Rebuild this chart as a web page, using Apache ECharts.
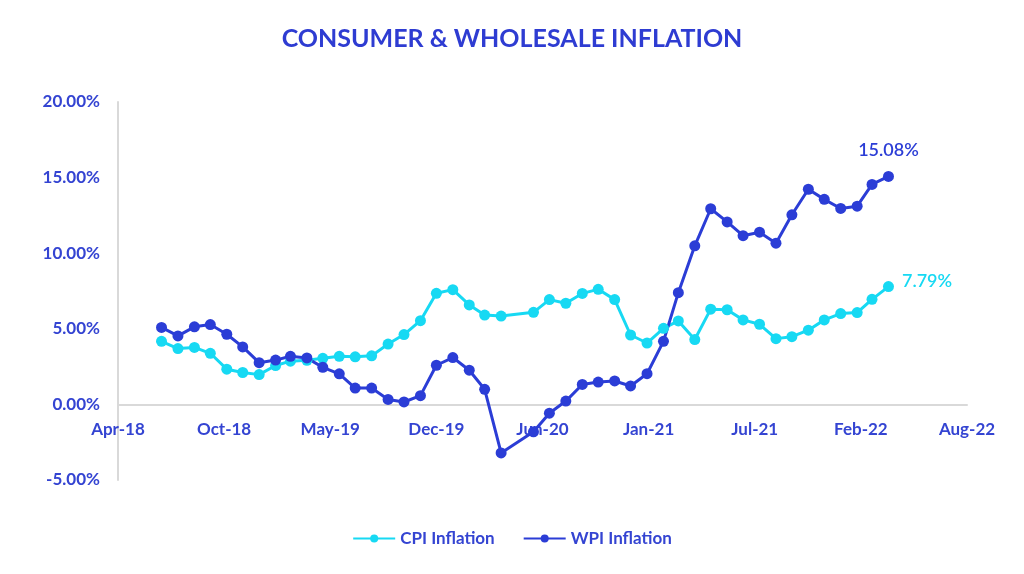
<!DOCTYPE html>
<html>
<head>
<meta charset="utf-8">
<script src="https://cdn.jsdelivr.net/npm/echarts@6/dist/echarts.min.js"></script>
<style>html,body{margin:0;padding:0;background:#fff}#c{width:1024px;height:574px}</style>
</head>
<body>
<div id="c"></div>
<script>
const months = ['2018-07','2018-08','2018-09','2018-10','2018-11','2018-12',
  '2019-01','2019-02','2019-03','2019-04','2019-05','2019-06','2019-07','2019-08','2019-09','2019-10','2019-11','2019-12',
  '2020-01','2020-02','2020-03','2020-04','2020-06','2020-07','2020-08','2020-09','2020-10','2020-11','2020-12',
  '2021-01','2021-02','2021-03','2021-04','2021-05','2021-06','2021-07','2021-08','2021-09','2021-10','2021-11','2021-12',
  '2022-01','2022-02','2022-03','2022-04'];
const cpi = [4.17,3.69,3.77,3.38,2.33,2.11,
  1.97,2.57,2.86,2.92,3.05,3.18,3.15,3.21,3.99,4.62,5.54,7.35,
  7.59,6.58,5.91,5.84,6.09,6.93,6.69,7.34,7.61,6.93,4.59,
  4.06,5.03,5.52,4.29,6.30,6.26,5.59,5.30,4.35,4.48,4.91,5.59,
  6.01,6.07,6.95,7.79];
const wpi = [5.09,4.53,5.13,5.28,4.64,3.80,
  2.76,2.93,3.18,3.07,2.45,2.02,1.08,1.08,0.33,0.16,0.58,2.59,
  3.10,2.26,1.00,-3.21,-1.81,-0.58,0.22,1.32,1.48,1.55,1.22,
  2.03,4.17,7.39,10.49,12.94,12.07,11.16,11.39,10.66,12.54,14.23,13.56,
  12.96,13.11,14.55,15.08];
const yTicks = {min:-5, max:20, step:5};
const xAxisSerial = {min:43200, max:44800, step:200};  // Excel date serials (days)

const MON = ['Jan','Feb','Mar','Apr','May','Jun','Jul','Aug','Sep','Oct','Nov','Dec'];
function toSerial(s){const [y,m]=s.split('-').map(Number);return Date.UTC(y,m-1,1)/86400000+25569;}
function fmtSerial(v){const d=new Date((v-25569)*86400000);return MON[d.getUTCMonth()]+'-'+String(d.getUTCFullYear()).slice(2);}

const CPI_C = '#17d9f3', WPI_C = '#2b3dd6', TXT = '#3444d2';
const font = 'Lato, "Open Sans", sans-serif';

const GRID = {left:118, right:57, top:102, bottom:94};
const gridH = 574 - GRID.top - GRID.bottom;
// move the bottom x axis up so it sits on the 0% line
const zeroOffset = -((0 - yTicks.min) / (yTicks.max - yTicks.min)) * gridH;

function build(vals, color, pos){
  return vals.map((v,i)=>{
    const item = {value:[toSerial(months[i]), v]};
    if(i===vals.length-1){
      item.label = {show:true, position:pos, distance:pos==='top'?12:8,
        offset: pos==='top'?[0,0]:[0,-5],
        formatter:p=>p.value[1].toFixed(2)+'%',
        color:color, fontSize:18, fontWeight:600, fontFamily:font};
    }
    return item;
  });
}

const chart = echarts.init(document.getElementById('c'));
chart.setOption({
  animation:false,
  title:{text:'CONSUMER & WHOLESALE INFLATION', left:'center', top:21,
    textStyle:{color:'#2e3cd2', fontSize:25, fontWeight:'bold', fontFamily:font}},
  legend:{bottom:22, left:'center', itemWidth:42, itemHeight:10, itemGap:28,
    textStyle:{color:TXT, fontSize:17, fontWeight:'bold', fontFamily:font},
    data:['CPI Inflation','WPI Inflation']},
  grid:Object.assign({containLabel:false}, GRID),
  xAxis:{type:'value', min:xAxisSerial.min, max:xAxisSerial.max, interval:xAxisSerial.step,
    position:'bottom', offset:zeroOffset,
    axisLine:{show:true, onZero:false, lineStyle:{color:'#d9d9d9', width:2}},
    axisTick:{show:false}, splitLine:{show:false},
    axisLabel:{formatter:fmtSerial, color:TXT, fontSize:17, fontWeight:'bold', fontFamily:font, margin:17,
      showMinLabel:true, showMaxLabel:true}},
  yAxis:{type:'value', min:yTicks.min, max:yTicks.max, interval:yTicks.step,
    axisLine:{show:true, onZero:false, lineStyle:{color:'#d9d9d9', width:2}},
    axisTick:{show:false}, splitLine:{show:false},
    axisLabel:{formatter:v=>v.toFixed(2)+'%', color:TXT, fontSize:17, fontWeight:'bold', fontFamily:font, margin:18}},
  series:[
    {name:'CPI Inflation', type:'line', data:build(cpi, CPI_C, 'right'), symbol:'circle', symbolSize:11,
      itemStyle:{color:CPI_C}, lineStyle:{color:CPI_C, width:3}},
    {name:'WPI Inflation', type:'line', data:build(wpi, WPI_C, 'top'), symbol:'circle', symbolSize:11,
      itemStyle:{color:WPI_C}, lineStyle:{color:WPI_C, width:3}}
  ]
});
</script>
</body>
</html>
